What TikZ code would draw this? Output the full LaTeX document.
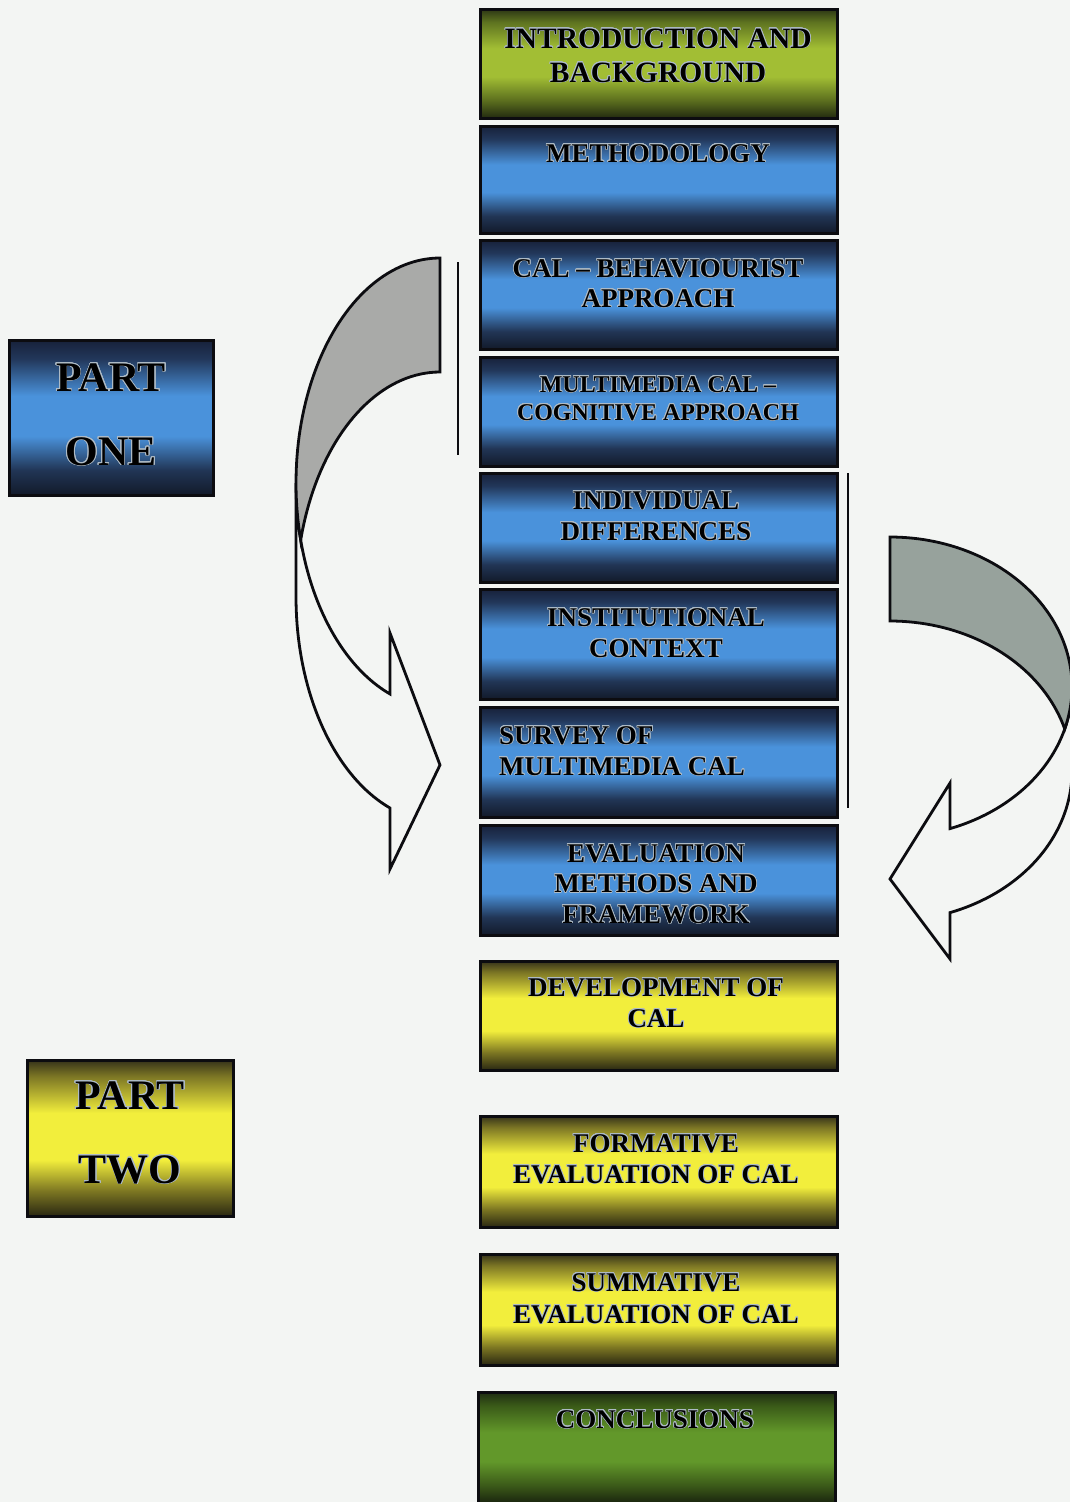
\documentclass[tikz,border=0pt]{standalone}
\usepackage{fontspec}
\setmainfont{Liberation Serif}
\usepackage[copies]{contour}
\contourlength{0.6pt}
\contournumber{24}

% paper and outline colours
\definecolor{paper}{HTML}{F3F5F3}
\definecolor{ink}{HTML}{0C0C10}
\definecolor{halo}{HTML}{AEBBC6}
% blue chapter bands
\definecolor{blueTop}{HTML}{17213A}
\definecolor{blueHigh}{HTML}{22375A}
\definecolor{blueMid}{HTML}{4A92DB}
\definecolor{blueLow}{HTML}{213555}
\definecolor{blueBot}{HTML}{121A2A}
% yellow chapter bands
\definecolor{yelTop}{HTML}{35321A}
\definecolor{yelHigh}{HTML}{7A7424}
\definecolor{yelMid}{HTML}{F2EE3C}
\definecolor{yelLow}{HTML}{7C7622}
\definecolor{yelBot}{HTML}{2A2812}
% light green opening band
\definecolor{limeTop}{HTML}{2C3614}
\definecolor{limeHigh}{HTML}{5E7320}
\definecolor{limeMid}{HTML}{A2BE34}
\definecolor{limeLow}{HTML}{5B6E1E}
\definecolor{limeBot}{HTML}{222A10}
% deep green closing band
\definecolor{leafTop}{HTML}{1E2C12}
\definecolor{leafHigh}{HTML}{3A5A18}
\definecolor{leafMid}{HTML}{62982A}
\definecolor{leafLow}{HTML}{3A5818}
\definecolor{leafBot}{HTML}{18220E}
% arrow backs
\definecolor{backL}{HTML}{A9AAA8}
\definecolor{backR}{HTML}{97A29C}

% dark at both edges, bright band a little above the middle
\pgfdeclareverticalshading{blueband}{100bp}{color(0bp)=(blueBot); color(25bp)=(blueBot); color(33bp)=(blueLow); color(44bp)=(blueMid); color(57bp)=(blueMid); color(69bp)=(blueHigh); color(75bp)=(blueTop); color(100bp)=(blueTop)}
\pgfdeclareverticalshading{yellowband}{100bp}{color(0bp)=(yelBot); color(25bp)=(yelBot); color(33bp)=(yelLow); color(43bp)=(yelMid); color(58bp)=(yelMid); color(70bp)=(yelHigh); color(75bp)=(yelTop); color(100bp)=(yelTop)}
\pgfdeclareverticalshading{limeband}{100bp}{color(0bp)=(limeBot); color(25bp)=(limeBot); color(33bp)=(limeLow); color(44bp)=(limeMid); color(57bp)=(limeMid); color(69bp)=(limeHigh); color(75bp)=(limeTop); color(100bp)=(limeTop)}
\pgfdeclareverticalshading{leafband}{100bp}{color(0bp)=(leafBot); color(25bp)=(leafBot); color(33bp)=(leafLow); color(44bp)=(leafMid); color(57bp)=(leafMid); color(69bp)=(leafHigh); color(75bp)=(leafTop); color(100bp)=(leafTop)}

% black lettering with a thin light rim
\newcommand\rim[1]{\contour{halo}{#1}}

\tikzset{
  chapter/.style={draw=ink, line width=3pt, anchor=north west, inner sep=0pt,
    outer sep=0pt, minimum width=357pt},
  bluebox/.style={chapter, shading=blueband},
  yellowbox/.style={chapter, shading=yellowband},
  limebox/.style={chapter, shading=limeband},
  leafbox/.style={chapter, shading=leafband},
  caption/.style={text=black, font=\bfseries\fontsize{27}{31}\selectfont,
    align=center, inner sep=0pt, anchor=base},
  partbox/.style={draw=ink, line width=3pt, anchor=north west, inner sep=0pt,
    outer sep=0pt},
  parttext/.style={text=black, font=\bfseries\fontsize{42}{74}\selectfont,
    align=center, inner sep=0pt, anchor=base},
  arrowfront/.style={draw=ink, line width=2.8pt, fill=paper, line join=miter},
  arrowbackL/.style={draw=ink, line width=2.8pt, fill=backL, line join=miter},
  arrowbackR/.style={draw=ink, line width=2.8pt, fill=backR, line join=miter},
  bracket/.style={draw=ink, line width=2.4pt}
}

\begin{document}
\begin{tikzpicture}[x=1pt,y=-1pt]
\useasboundingbox (0,0) rectangle (1070,1502);
\fill[paper] (0,0) rectangle (1070,1502);

% ---- curved arrow on the left, head pointing right ----
% two equal ellipses (rx 144, ry 225) centred on x = 440, at y = 483 and y = 597
\draw[arrowfront]
  plot[domain=0:1, samples=40] ({440+144*cos(165.33-55.01*\x)},{483+225*sin(165.33-55.01*\x)})
  -- (390,633) -- (440,765) -- (390,869) -- (390,808)
  -- plot[domain=0:1, samples=40] ({440+144*cos(110.32+69.68*\x)},{597+225*sin(110.32+69.68*\x)})
  -- (296,483)
  -- plot[domain=0:1, samples=10] ({440+144*cos(180-14.67*\x)},{483+225*sin(180-14.67*\x)})
  -- cycle;
\draw[arrowbackL] (440,258)
  -- plot[domain=0:1, samples=60] ({440+144*cos(270-104.67*\x)},{483+225*sin(270-104.67*\x)})
  -- plot[domain=0:1, samples=40] ({440+144*cos(194.67+75.33*\x)},{597+225*sin(194.67+75.33*\x)})
  -- cycle;
\draw[bracket] (458,262) -- (458,455);

% ---- curved arrow on the right, head pointing left ----
% two equal ellipses (rx 182, ry 150) centred on x = 890, at y = 687 and y = 771
\draw[arrowfront]
  plot[domain=0:1, samples=40] ({890-182*cos(163.74-54.49*\x)},{687+150*sin(163.74-54.49*\x)})
  -- (950,783) -- (890,879) -- (950,959) -- (950,913)
  -- plot[domain=0:1, samples=40] ({890-182*cos(109.25+70.75*\x)},{771+150*sin(109.25+70.75*\x)})
  -- (1072,687)
  -- plot[domain=0:1, samples=10] ({890-182*cos(180-16.26*\x)},{687+150*sin(180-16.26*\x)})
  -- cycle;
\draw[arrowbackR] (890,537)
  -- plot[domain=0:1, samples=60] ({890-182*cos(270-106.26*\x)},{687+150*sin(270-106.26*\x)})
  -- plot[domain=0:1, samples=40] ({890-182*cos(196.26+73.74*\x)},{771+150*sin(196.26+73.74*\x)})
  -- cycle;
\draw[bracket] (848,473) -- (848,808);

% ---- part labels (multi-line text sits on its last baseline) ----
\node[partbox, shading=blueband, minimum width=204pt, minimum height=155pt] (p1) at (9,340) {};
\node[parttext] (p1t) at (111,465) {\rim{PART}\\\rim{ONE}};
\node[partbox, shading=yellowband, minimum width=206pt, minimum height=156pt] (p2) at (27,1060) {};
\node[parttext] (p2t) at (130,1183) {\rim{PART}\\\rim{TWO}};

% ---- chapter column ----
\node[limebox, minimum height=109pt] (c1) at (480,9) {};
\node[caption, font=\bfseries\fontsize{29.5}{34}\selectfont] (c1t) at (658,82) {\rim{INTRODUCTION AND}\\\rim{BACKGROUND}};

\node[bluebox, minimum height=107pt] (c2) at (480,126) {};
\node[caption] (c2t) at (658,162) {\rim{METHODOLOGY}};

\node[bluebox, minimum height=109pt] (c3) at (480,240) {};
\node[caption, font=\bfseries\fontsize{27}{30}\selectfont] (c3t) at (658,307) {\rim{CAL -- BEHAVIOURIST}\\\rim{APPROACH}};

\node[bluebox, minimum height=109pt] (c4) at (480,357) {};
\node[caption, font=\bfseries\fontsize{24}{28}\selectfont] (c4t) at (658,420) {\rim{MULTIMEDIA CAL --}\\\rim{COGNITIVE APPROACH}};

\node[bluebox, minimum height=109pt] (c5) at (480,473) {};
\node[caption] (c5t) at (656,540) {\rim{INDIVIDUAL}\\\rim{DIFFERENCES}};

\node[bluebox, minimum height=110pt] (c6) at (480,589) {};
\node[caption] (c6t) at (656,657) {\rim{INSTITUTIONAL}\\\rim{CONTEXT}};

\node[bluebox, minimum height=110pt] (c7) at (480,707) {};
\node[caption, align=left, anchor=base west] (c7t) at (499,775) {\rim{SURVEY OF}\\\rim{MULTIMEDIA CAL}};

\node[bluebox, minimum height=110pt] (c8) at (480,825) {};
\node[caption, font=\bfseries\fontsize{27}{30.5}\selectfont] (c8t) at (656,923) {\rim{EVALUATION}\\\rim{METHODS AND}\\\rim{FRAMEWORK}};

\node[yellowbox, minimum height=109pt] (c9) at (480,961) {};
\node[caption] (c9t) at (656,1027) {\rim{DEVELOPMENT OF}\\\rim{CAL}};

\node[yellowbox, minimum height=111pt] (c10) at (480,1116) {};
\node[caption] (c10t) at (656,1183) {\rim{FORMATIVE}\\\rim{EVALUATION OF CAL}};

\node[yellowbox, minimum height=111pt] (c11) at (480,1254) {};
\node[caption, font=\bfseries\fontsize{27}{32}\selectfont] (c11t) at (656,1323) {\rim{SUMMATIVE}\\\rim{EVALUATION OF CAL}};

\node[leafbox, minimum height=112pt] (c12) at (478,1392) {};
\node[caption] (c12t) at (655,1428) {\rim{CONCLUSIONS}};
\end{tikzpicture}
\end{document}
